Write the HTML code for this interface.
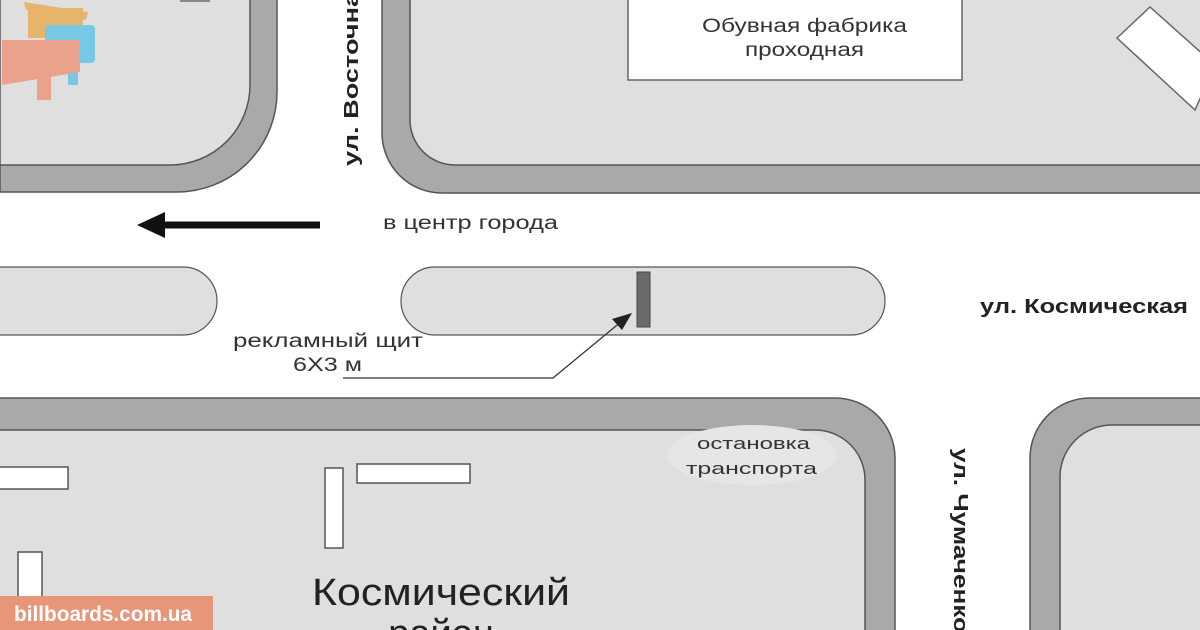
<!DOCTYPE html>
<html><head><meta charset="utf-8"><style>
html,body{margin:0;padding:0;background:#fff;overflow:hidden}
svg{display:block}
text{font-family:"Liberation Sans","DejaVu Sans",sans-serif}
</style></head><body>
<svg width="1200" height="630" viewBox="0 0 1200 630" xmlns="http://www.w3.org/2000/svg">
<rect width="1200" height="630" fill="#fff"/>
<g stroke="#555" stroke-width="1.5">
<path d="M0,-2 H277 V92 A100,100 0 0 1 177,192 H0 Z" fill="#a9a9a9"/>
<path d="M0,-2 H250 V85 A80,80 0 0 1 170,165 H0 Z" fill="#dfdfdf"/>
<path d="M1202,-2 H382 V133 A60,60 0 0 0 442,193 H1202 Z" fill="#a9a9a9"/>
<path d="M1202,-2 H410 V120 A45,45 0 0 0 455,165 H1202 Z" fill="#dfdfdf"/>
<path d="M-2,632 V398 H835 A60,60 0 0 1 895,458 V632 Z" fill="#a9a9a9"/>
<path d="M-2,632 V430 H815 A50,50 0 0 1 865,480 V632 Z" fill="#dfdfdf"/>
<path d="M1202,398 H1090 A60,60 0 0 0 1030,458 V632 H1202 Z" fill="#a9a9a9"/>
<path d="M1202,425 H1112 A52,52 0 0 0 1060,477 V632 H1202 Z" fill="#dfdfdf"/>
<path d="M-5,267 H183 A34,34 0 0 1 183,335 H-5 Z" fill="#dfdfdf" stroke-width="1.2"/>
<rect x="401" y="267" width="484" height="68" rx="34" fill="#dfdfdf" stroke-width="1.2"/>
</g>
<rect x="637" y="272" width="13" height="55" fill="#6b6b6b" stroke="#444"/>
<rect x="628" y="-2" width="334" height="82" fill="#fff" stroke="#666" stroke-width="1.5"/>
<text x="702" y="32" font-size="19" textLength="205" lengthAdjust="spacingAndGlyphs" fill="#333">Обувная фабрика</text>
<text x="745" y="56" font-size="19" textLength="119" lengthAdjust="spacingAndGlyphs" fill="#333">проходная</text>
<polygon points="1117,38 1150,7 1215,65 1195,110" fill="#fff" stroke="#666" stroke-width="1.5"/>
<g fill="#fff" stroke="#555" stroke-width="1.5">
<rect x="-5" y="467" width="73" height="22"/>
<rect x="357" y="464" width="113" height="19"/>
<rect x="325" y="468" width="18" height="80"/>
<rect x="18" y="552" width="24" height="90"/>
</g>
<rect x="180" y="-5" width="30" height="7" fill="#888"/>
<ellipse cx="752" cy="455" rx="85" ry="30" fill="#e6e6e6"/>
<text x="697" y="449" font-size="17" textLength="113" lengthAdjust="spacingAndGlyphs" fill="#333">остановка</text>
<text x="686" y="474" font-size="17" textLength="131" lengthAdjust="spacingAndGlyphs" fill="#333">транспорта</text>
<line x1="320" y1="225" x2="160" y2="225" stroke="#111" stroke-width="7"/>
<polygon points="137,225 165,212 165,238" fill="#111"/>
<text x="383" y="229" font-size="19" textLength="175" lengthAdjust="spacingAndGlyphs" fill="#333">в центр города</text>
<polyline points="343,378 553,378 622,321" fill="none" stroke="#333" stroke-width="1.3"/>
<polygon points="632,313 612,319 622,330" fill="#222"/>
<text x="233" y="347" font-size="19" textLength="190" lengthAdjust="spacingAndGlyphs" fill="#333">рекламный щит</text>
<text x="293" y="371" font-size="19" textLength="69" lengthAdjust="spacingAndGlyphs" fill="#333">6Х3 м</text>
<text x="980" y="313" font-size="20" font-weight="bold" textLength="208" lengthAdjust="spacingAndGlyphs" fill="#222">ул. Космическая</text>
<text transform="translate(358,166) rotate(-90)" font-size="20" font-weight="bold" textLength="190" lengthAdjust="spacingAndGlyphs" fill="#222">ул. Восточная</text>
<text transform="translate(954,448) rotate(90)" font-size="20" font-weight="bold" textLength="185" lengthAdjust="spacingAndGlyphs" fill="#222">ул. Чумаченко</text>
<text x="312" y="605" font-size="38" textLength="258" lengthAdjust="spacingAndGlyphs" fill="#222">Космический</text>
<text x="441" y="646" font-size="38" text-anchor="middle" fill="#222">район</text>
<g opacity="0.9">
<polygon points="24,2 88,12 86,20 26,10" fill="#e8b060"/>
<rect x="28" y="8" width="55" height="30" fill="#e8b060"/>
<rect x="45" y="25" width="50" height="38" rx="4" fill="#6cc6e6"/>
<rect x="68" y="60" width="10" height="25" fill="#6cc6e6"/>
<polygon points="2,40 80,40 80,72 2,85" fill="#ec9c84"/>
<rect x="37" y="70" width="14" height="30" fill="#ec9c84"/>
</g>
<rect x="0" y="596" width="213" height="34" fill="#e8967a"/>
<text x="14" y="621" font-size="21" font-weight="bold" textLength="178" lengthAdjust="spacingAndGlyphs" fill="#fff">billboards.com.ua</text>
</svg>
</body></html>
